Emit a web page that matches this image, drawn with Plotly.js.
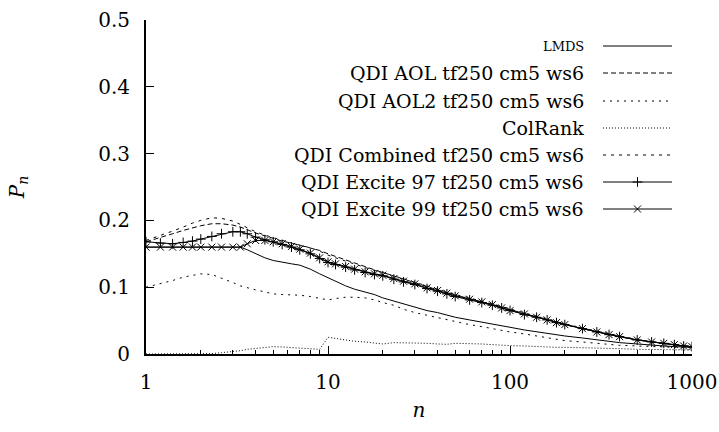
<!DOCTYPE html>
<html><head><meta charset="utf-8">
<script src="https://cdn.plot.ly/plotly-3.0.1.min.js"></script>
<style>html,body{margin:0;padding:0;background:#fff}#c{width:719px;height:432px}</style>
</head><body><div id="c"></div>
<script>
const n = [1,1.2,1.4,1.6,1.8,2,2.3,2.6,3,3.3,3.6,4,4.5,5,5.6,6.3,7,8,9,10,11,12.5,14,16,18,20,23,26,30,35,40,45,50,60,70,80,90,100,120,140,160,180,200,250,300,350,400,500,600,700,800,900,1000];

const seriesNames = ["LMDS","QDI AOL tf250 cm5 ws6","QDI AOL2 tf250 cm5 ws6","ColRank","QDI Combined tf250 cm5 ws6","QDI Excite 97 tf250 cm5 ws6","QDI Excite 99 tf250 cm5 ws6"];

const lmds = [0.160,0.160,0.160,0.160,0.160,0.160,0.160,0.160,0.160,0.160,0.156,0.150,0.144,0.140,0.137,0.135,0.133,0.127,0.120,0.114,0.109,0.102,0.097,0.093,0.089,0.084,0.079,0.075,0.070,0.065,0.062,0.058,0.055,0.051,0.048,0.045,0.042,0.040,0.036,0.033,0.031,0.029,0.027,0.024,0.021,0.019,0.017,0.015,0.013,0.012,0.011,0.011,0.010];
const aol = [0.168,0.174,0.180,0.185,0.189,0.192,0.195,0.195,0.193,0.190,0.186,0.181,0.177,0.173,0.169,0.166,0.163,0.159,0.155,0.150,0.146,0.141,0.136,0.130,0.126,0.122,0.117,0.112,0.107,0.101,0.096,0.092,0.088,0.083,0.078,0.074,0.070,0.066,0.060,0.055,0.051,0.047,0.044,0.038,0.033,0.029,0.026,0.021,0.018,0.016,0.014,0.012,0.011];
const aol2 = [0.100,0.105,0.110,0.115,0.118,0.120,0.119,0.114,0.107,0.102,0.099,0.096,0.093,0.090,0.089,0.089,0.088,0.086,0.083,0.081,0.083,0.085,0.085,0.084,0.081,0.077,0.073,0.067,0.062,0.058,0.054,0.051,0.048,0.044,0.041,0.038,0.035,0.033,0.030,0.027,0.025,0.022,0.020,0.018,0.016,0.014,0.013,0.012,0.011,0.011,0.010,0.010,0.010];
const colrank = [0,0,0,0,0,0,0.0005,0.002,0.0035,0.005,0.007,0.0085,0.010,0.011,0.0105,0.0095,0.009,0.008,0.007,0.025,0.023,0.021,0.019,0.018,0.016,0.015,0.017,0.017,0.016,0.016,0.015,0.0145,0.016,0.016,0.015,0.014,0.013,0.0125,0.012,0.011,0.011,0.010,0.010,0.009,0.009,0.008,0.008,0.007,0.007,0.006,0.006,0.006,0.006];
const combined = [0.170,0.177,0.184,0.190,0.196,0.200,0.204,0.203,0.199,0.194,0.189,0.183,0.178,0.174,0.170,0.166,0.163,0.159,0.154,0.148,0.144,0.139,0.134,0.129,0.125,0.122,0.117,0.112,0.107,0.101,0.097,0.093,0.089,0.084,0.079,0.075,0.071,0.067,0.061,0.056,0.052,0.048,0.045,0.039,0.034,0.030,0.027,0.022,0.018,0.016,0.014,0.013,0.011];
const excite97 = [0.168,0.166,0.165,0.167,0.169,0.172,0.176,0.180,0.183,0.183,0.180,0.175,0.171,0.168,0.164,0.160,0.156,0.150,0.143,0.137,0.134,0.130,0.126,0.122,0.119,0.117,0.112,0.108,0.104,0.098,0.094,0.090,0.086,0.081,0.077,0.073,0.069,0.065,0.059,0.055,0.051,0.047,0.044,0.038,0.033,0.029,0.026,0.021,0.018,0.016,0.014,0.012,0.011];
const excite99 = [0.160,0.160,0.160,0.160,0.160,0.160,0.160,0.160,0.160,0.160,0.165,0.170,0.170,0.168,0.165,0.161,0.157,0.151,0.144,0.138,0.135,0.131,0.127,0.123,0.120,0.118,0.113,0.109,0.105,0.099,0.095,0.091,0.087,0.082,0.078,0.074,0.069,0.065,0.060,0.055,0.051,0.047,0.044,0.038,0.033,0.029,0.026,0.021,0.018,0.016,0.014,0.012,0.011];

const yTickVals = [0,0.1,0.2,0.3,0.4,0.5];
const yTickText = ["0","0.1","0.2","0.3","0.4","0.5"];
const xTickVals = [1,10,100,1000];
const xTickText = ["1","10","100","1000"];

const seriesData = [lmds, aol, aol2, colrank, combined, excite97, excite99];
const styles = [
  {dash:"solid", sym:null},
  {dash:"5px,3px", sym:null},
  {dash:"2px,5px", sym:null},
  {dash:"1px,2px", sym:null},
  {dash:"3px,5px", sym:null},
  {dash:"solid", sym:"cross-thin-open"},
  {dash:"solid", sym:"x-thin-open"}
];

const FONT = "DejaVu Serif";
const traces = [];
seriesData.forEach((ys,i)=>{
  const st = styles[i];
  const t = {x:n, y:ys, type:"scatter", mode: st.sym ? "lines+markers" : "lines",
    line:{color:"#000", width:1, dash:st.dash}, showlegend:false, hoverinfo:"skip", xaxis:"x", yaxis:"y"};
  if (st.sym) t.marker = {symbol:st.sym, size:7, color:"#000", line:{color:"#000", width:1}};
  traces.push(t);
});

// legend keys drawn on an overlay pixel-like axis pair
const plotW = 546, plotH = 334;
const legRows = [26, 53, 81, 108, 135, 162, 189];
const keyX0 = 457, keyX1 = 526, textX = 440;
const annotations = [];
seriesNames.forEach((name,i)=>{
  const st = styles[i];
  traces.push({x:[keyX0,keyX1], y:[legRows[i],legRows[i]], type:"scatter", mode:"lines",
    line:{color:"#000", width:1, dash:st.dash}, showlegend:false, hoverinfo:"skip", xaxis:"x2", yaxis:"y2"});
  if (st.sym) traces.push({x:[(keyX0+keyX1)/2], y:[legRows[i]], type:"scatter", mode:"markers",
    marker:{symbol:st.sym, size:7, color:"#000", line:{color:"#000", width:1}}, showlegend:false, hoverinfo:"skip", xaxis:"x2", yaxis:"y2"});
  annotations.push({x:textX, y:legRows[i], xref:"x2", yref:"y2", text: i===0 ? "LMDS" : name,
    showarrow:false, xanchor:"right", yanchor:"middle", font:{family:FONT, size: i===0 ? 13 : 19, color:"#000"}});
});

const layout = {
  width:719, height:432,
  margin:{l:146, r:27, t:20, b:78},
  paper_bgcolor:"#fff", plot_bgcolor:"#fff",
  font:{family:FONT, size:20, color:"#000"},
  showlegend:false,
  xaxis:{type:"log", range:[0,3], showline:true, linecolor:"#000", linewidth:2, mirror:false,
    ticks:"inside", ticklen:8, tickwidth:1, tickcolor:"#000", tickvals:xTickVals, ticktext:xTickText,
    ticklabelstandoff:9,
    showgrid:false, zeroline:false,
    minor:{ticks:"inside", ticklen:4, tickwidth:1, tickcolor:"#000", dtick:"D1", showgrid:false},
    title:{text:"<i>n</i>", font:{family:FONT, size:20}, standoff:10}},
  yaxis:{range:[0,0.5], showline:true, linecolor:"#000", linewidth:2, mirror:false,
    ticks:"inside", ticklen:8, tickwidth:1, tickcolor:"#000", tickvals:yTickVals, ticktext:yTickText,
    ticklabelstandoff:10,
    showgrid:false, zeroline:false,
    title:{text:"<i>P</i><sub><i>n</i></sub>", font:{family:FONT, size:20}, standoff:68}},
  xaxis2:{overlaying:"x", anchor:"y2", range:[0,plotW], visible:false, fixedrange:true},
  yaxis2:{overlaying:"y", anchor:"x2", range:[plotH,0], visible:false, fixedrange:true},
  annotations:annotations
};
Plotly.newPlot("c", traces, layout, {staticPlot:true, displayModeBar:false});
</script></body></html>
